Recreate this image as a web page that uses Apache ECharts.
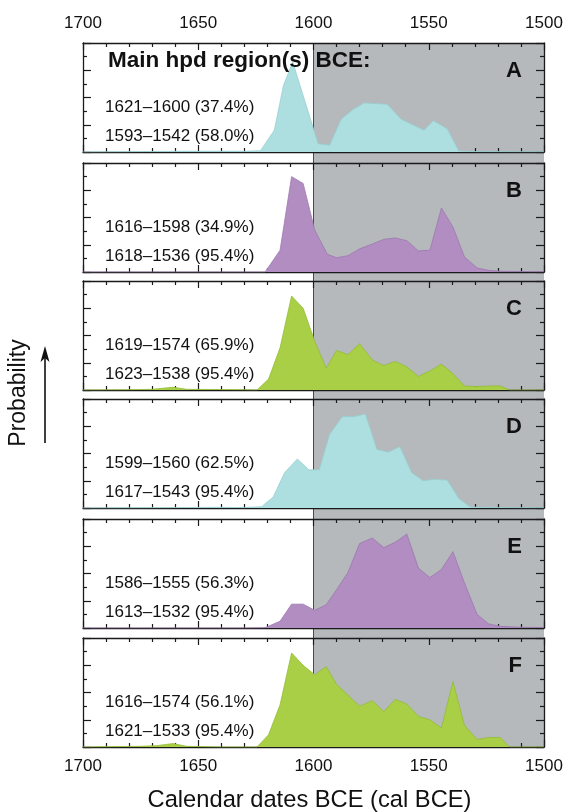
<!DOCTYPE html>
<html><head><meta charset="utf-8">
<script src="https://cdn.jsdelivr.net/npm/echarts@6/dist/echarts.min.js"></script>
<style>html,body{margin:0;padding:0;background:#fff}#c{width:568px;height:812px}</style>
</head><body><div id="c"></div>
<script>
// ---------- data ----------
const xMin = 1500, xMax = 1700, xInterval = 50;
const panelLetters = ['A', 'B', 'C', 'D', 'E', 'F'];
const hpdLine1 = ['1621\u20131600 (37.4%)', '1616\u20131598 (34.9%)', '1619\u20131574 (65.9%)', '1599\u20131560 (62.5%)', '1586\u20131555 (56.3%)', '1616\u20131574 (56.1%)'];
const hpdLine2 = ['1593\u20131542 (58.0%)', '1618\u20131536 (95.4%)', '1623\u20131538 (95.4%)', '1617\u20131543 (95.4%)', '1613\u20131532 (95.4%)', '1621\u20131533 (95.4%)'];

const yearsA = [1700, 1660, 1630, 1623, 1617, 1613, 1609, 1598, 1593, 1588, 1583, 1578, 1568, 1562, 1557, 1552, 1548, 1542, 1537, 1530, 1500];
const probA  = [0, 0.05, 0.05, 0.1, 1.6, 4.9, 6.6, 0.6, 0.5, 2.4, 3.1, 3.6, 3.5, 2.4, 2.0, 1.6, 2.3, 1.7, 0.07, 0.03, 0.02];

const yearsB = [1700, 1621, 1614.5, 1609.5, 1604.5, 1599.5, 1594, 1590, 1585, 1580, 1574.5, 1569.5, 1564.5, 1559.5, 1554.5, 1549.5, 1544.5, 1539.5, 1534.5, 1529, 1524, 1519, 1500];
const probB  = [0, 0, 1.6, 7.0, 6.5, 3.1, 1.3, 1.05, 1.2, 1.7, 2.05, 2.4, 2.5, 2.3, 1.55, 1.6, 4.7, 3.3, 1.1, 0.3, 0.12, 0.05, 0.02];

const yearsC = [1700, 1680, 1670, 1661, 1655, 1640, 1630, 1624.5, 1619.5, 1614.5, 1609.5, 1604.5, 1599.5, 1594.5, 1590, 1585, 1580, 1574.5, 1569.5, 1564.5, 1559.5, 1554.5, 1549.5, 1544.5, 1539.5, 1534.5, 1529, 1524, 1519, 1515, 1500];
const probC  = [0, 0.02, 0.05, 0.2, 0.05, 0.03, 0.02, 0, 0.8, 3.1, 6.9, 6.0, 3.6, 1.6, 2.9, 2.6, 3.4, 2.2, 1.8, 2.1, 1.7, 1.0, 1.4, 1.9, 1.2, 0.3, 0.25, 0.3, 0.3, 0, 0];

const yearsD = [1700, 1660, 1640, 1630, 1622.5, 1617.5, 1612.5, 1607, 1602, 1597.5, 1593, 1587.5, 1582.5, 1577.5, 1572.5, 1567.5, 1562.5, 1557.5, 1552.5, 1547.5, 1542, 1537, 1532, 1520, 1500];
const probD  = [0, 0.03, 0.05, 0.03, 0.1, 0.8, 2.6, 3.6, 2.8, 2.8, 5.4, 6.7, 6.7, 6.9, 4.3, 4.1, 4.5, 2.6, 2.0, 2.1, 2.05, 0.7, 0.07, 0.03, 0.02];

const yearsE = [1700, 1630, 1621, 1614.5, 1609.5, 1604.5, 1599.5, 1594.5, 1590, 1585, 1580, 1574.5, 1569.5, 1564.5, 1559.5, 1554.5, 1549.5, 1544.5, 1539.5, 1534.5, 1529, 1524, 1519, 1510, 1500];
const probE  = [0, 0, 0.02, 0.5, 1.75, 1.75, 1.3, 1.7, 2.8, 4.1, 6.2, 6.6, 5.9, 6.3, 6.9, 4.4, 3.7, 4.3, 5.6, 3.3, 1.0, 0.3, 0.12, 0.05, 0.03];

const yearsF = [1700, 1675, 1668, 1661, 1655, 1640, 1624.5, 1619.5, 1614.5, 1609.5, 1604.5, 1599.5, 1594.5, 1590, 1585, 1580, 1574.5, 1569.5, 1564.5, 1559.5, 1554.5, 1549.5, 1544.5, 1539.5, 1534.5, 1529, 1524, 1519, 1515, 1500];
const probF  = [0, 0.05, 0.1, 0.25, 0.05, 0, 0, 0.9, 3.1, 6.9, 6.0, 5.3, 5.9, 4.6, 3.8, 3.0, 3.4, 2.6, 3.5, 3.15, 2.25, 2.0, 1.4, 4.8, 1.6, 0.55, 0.7, 0.7, 0, 0];

const panelYears = [yearsA, yearsB, yearsC, yearsD, yearsE, yearsF];
const panelProbs = [probA, probB, probC, probD, probE, probF];

// ---------- styling / layout ----------
const FF = '"Liberation Sans", Arial, Helvetica, sans-serif';
const fillColors = ['#aedfe0', '#b18dc2', '#a8cf46', '#aedfe0', '#b18dc2', '#a8cf46'];
const edgeColors = ['#97cfd0', '#9d77b0', '#94bd35', '#97cfd0', '#9d77b0', '#94bd35'];
const panelTops = [43, 163, 281, 399, 519, 638];
const panelH = 109;
const AX = '#1a1a1a';

const grids = [], xAxes = [], yAxes = [], series = [];
panelTops.forEach((top, i) => {
  grids.push({ left: 83, right: 24, top: top, height: panelH });
  const xb = {
    type: 'value', gridIndex: i, min: xMin, max: xMax, interval: xInterval, inverse: true,
    axisLine: { show: true, onZero: false, lineStyle: { color: AX, width: 1.3 } },
    axisTick: { show: true, inside: true, length: 7, lineStyle: { color: AX, width: 1.2 } },
    minorTick: { show: true, splitNumber: 5, length: 4, lineStyle: { color: AX, width: 1.2 } },
    splitLine: { show: false }, minorSplitLine: { show: false }
  };
  const lbl = (show) => ({ show: show, margin: 11, fontSize: 17, color: '#111', fontFamily: FF,
    formatter: (v) => String(v) });
  xAxes.push(Object.assign({}, xb, { position: 'bottom', axisLabel: lbl(i === 5) }));
  xAxes.push(Object.assign({}, xb, { position: 'top', axisLabel: lbl(i === 0) }));
  const yb = {
    type: 'value', gridIndex: i, min: 0, max: 8, interval: 2,
    axisLine: { show: true, onZero: false, lineStyle: { color: AX, width: 1.3 } },
    axisTick: { show: true, inside: true, length: 8, lineStyle: { color: AX, width: 1.2 } },
    minorTick: { show: true, splitNumber: 2, length: 4, lineStyle: { color: AX, width: 1.2 } },
    axisLabel: { show: false }, splitLine: { show: false }, minorSplitLine: { show: false }
  };
  yAxes.push(Object.assign({}, yb, { position: 'left' }));
  yAxes.push(Object.assign({}, yb, { position: 'right' }));
  series.push({
    type: 'line', xAxisIndex: 2 * i, yAxisIndex: 2 * i,
    data: panelYears[i].map((y, k) => [y, panelProbs[i][k]]),
    showSymbol: false, symbol: 'none', smooth: false, silent: true,
    lineStyle: { width: 0.8, color: edgeColors[i] },
    areaStyle: { color: fillColors[i], opacity: 1 },
    z: 2
  });
});

const chart = echarts.init(document.getElementById('c'), null, { renderer: 'canvas' });
chart.setOption({
  animation: false, backgroundColor: '#fff',
  grid: grids, xAxis: xAxes, yAxis: yAxes, series: series
});

// ---------- decorations computed through the axes ----------
const x1600 = chart.convertToPixel({ xAxisIndex: 0 }, 1600);
const x1500 = chart.convertToPixel({ xAxisIndex: 0 }, 1500);
const x1700 = chart.convertToPixel({ xAxisIndex: 0 }, 1700);
const yTop = chart.convertToPixel({ yAxisIndex: 0 }, 8);
const yBot = chart.convertToPixel({ yAxisIndex: 10 }, 0);

function txt(text, x, y, font, align, extra) {
  return Object.assign({
    type: 'text', z: 20, silent: true,
    style: { text: text, x: x, y: y, font: font, fill: '#111',
      textAlign: align, align: align, textVerticalAlign: 'middle', verticalAlign: 'middle' }
  }, extra || {});
}

const gfx = [
  { type: 'rect', z: -2, silent: true, shape: { x: x1600, y: yTop, width: x1500 - x1600, height: yBot - yTop },
    style: { fill: '#b5b9bc' } },
  { type: 'line', z: -1, silent: true, shape: { x1: x1600, y1: yTop, x2: x1600, y2: yBot },
    style: { stroke: '#4a4a4a', lineWidth: 1 } },
  txt('Main hpd region(s) BCE:', 108, panelTops[0] + 18, 'bold 22.5px ' + FF, 'left'),
  txt('Calendar dates BCE (cal BCE)', (x1700 + x1500) / 2 - 4, 800, '23.7px ' + FF, 'center'),
  { type: 'text', z: 20, silent: true, x: 19, y: 393, rotation: Math.PI / 2,
    style: { text: 'Probability', x: 0, y: 0, font: '23px ' + FF, fill: '#111',
      textAlign: 'center', align: 'center', textVerticalAlign: 'middle', verticalAlign: 'middle' } },
  { type: 'line', z: 20, silent: true, shape: { x1: 45, y1: 443, x2: 45, y2: 356 },
    style: { stroke: '#111', lineWidth: 1.6 } },
  { type: 'polygon', z: 20, silent: true, shape: { points: [[45, 346], [40.5, 362], [45, 358], [49.5, 362]] },
    style: { fill: '#111' } }
];
panelTops.forEach((top, i) => {
  gfx.push(txt(panelLetters[i], 522, top + 28, 'bold 22px ' + FF, 'right'));
  gfx.push(txt(hpdLine1[i], 105, top + 64, '17px ' + FF, 'left'));
  gfx.push(txt(hpdLine2[i], 105, top + 93, '17px ' + FF, 'left'));
});
chart.setOption({ graphic: { elements: gfx } });
</script>
</body></html>
